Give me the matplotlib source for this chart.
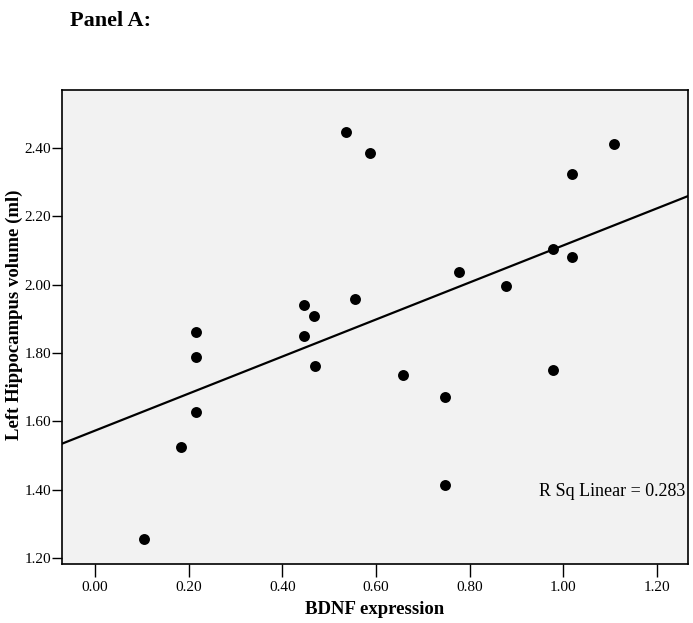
import numpy as np
import matplotlib
matplotlib.use("Agg")
import matplotlib.pyplot as plt

# BDNF expression vs left hippocampus volume
bdnf = [0.105, 0.184, 0.216, 0.216, 0.216, 0.447, 0.467, 0.447, 0.469, 0.556,
        0.537, 0.587, 0.777, 0.877, 0.978, 1.018, 1.018, 1.108, 0.657, 0.978,
        0.747, 0.747]
volume = [1.256, 1.525, 1.628, 1.789, 1.862, 1.941, 1.907, 1.850, 1.762, 1.958,
          2.447, 2.385, 2.037, 1.996, 2.105, 2.082, 2.325, 2.412, 1.735, 1.751,
          1.671, 1.414]
r_sq_label = "R Sq Linear = 0.283"
x_ticks = [0.0, 0.2, 0.4, 0.6, 0.8, 1.0, 1.2]
y_ticks = [1.2, 1.4, 1.6, 1.8, 2.0, 2.2, 2.4]

plt.rcParams['font.family'] = ['Liberation Serif', 'DejaVu Serif']

fig = plt.figure(figsize=(6.93, 6.23), dpi=100)
ax = fig.add_axes([0.0895, 0.0947, 0.9033, 0.7608])
ax.set_facecolor('#f2f2f2')

xlim = (-0.07, 1.266)
ylim = (1.182, 2.57)

# fit line across the full x range
slope, intercept = np.polyfit(bdnf, volume, 1)
xs = np.array(xlim)
ax.plot(xs, slope * xs + intercept, color='black', lw=1.6, zorder=2)

ax.scatter(bdnf, volume, s=62, color='black', zorder=3, linewidths=0)

ax.set_xlim(*xlim)
ax.set_ylim(*ylim)
ax.set_xticks(x_ticks)
ax.set_yticks(y_ticks)
ax.set_xticklabels([f"{v:.2f}" for v in x_ticks])
ax.set_yticklabels([f"{v:.2f}" for v in y_ticks])
ax.tick_params(direction='out', width=1, labelsize=11, colors='black')
ax.tick_params(axis='x', length=9, pad=3)
ax.tick_params(axis='y', length=7, pad=1)
for sp in ax.spines.values():
    sp.set_linewidth(1.2)

ax.set_xlabel('BDNF expression', fontsize=13.5, fontweight='bold')
ax.xaxis.set_label_coords(0.5, -0.078)
ax.set_ylabel('Left Hippocampus volume (ml)', fontsize=13.5, fontweight='bold')
ax.yaxis.set_label_coords(-0.062, 0.525)

ax.text(0.995, 0.153, r_sq_label, transform=ax.transAxes, ha='right', va='center',
        fontsize=13)

fig.text(0.101, 0.966, 'Panel A:', fontsize=16, fontweight='bold', va='center')

fig.savefig('out.png', dpi=100)
